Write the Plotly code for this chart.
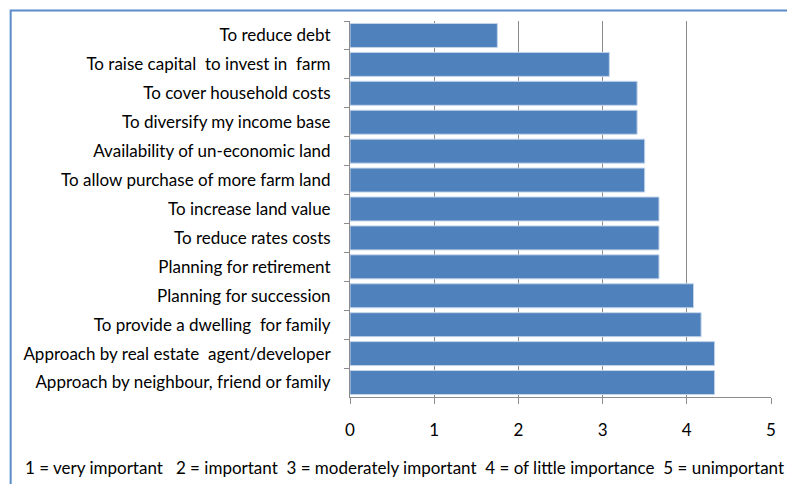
import plotly.graph_objects as go

categories = [
    "To reduce debt",
    "To raise capital  to invest in  farm",
    "To cover household costs",
    "To diversify my income base",
    "Availability of un-economic land",
    "To allow purchase of more farm land",
    "To increase land value",
    "To reduce rates costs",
    "Planning for retirement",
    "Planning for succession",
    "To provide a dwelling  for family",
    "Approach by real estate  agent/developer",
    "Approach by neighbour, friend or family",
]
values = [1.75, 3.08, 3.41, 3.41, 3.5, 3.5, 3.67, 3.67, 3.67, 4.08, 4.17, 4.33, 4.33]
x_ticks = [0, 1, 2, 3, 4, 5]
footnote = "1 = very important   2 = important  3 = moderately important  4 = of little importance  5 = unimportant"

W, H = 787, 484
L, R, T, B = 349.5, 770.7, 21, 397

fig = go.Figure(go.Bar(
    x=values, y=categories, orientation="h",
    marker=dict(color="#4F81BD", line=dict(color="#C5D5EA", width=1)),
    width=0.83,
))

FONT = "Lato"
FS = 17
fig.update_layout(
    width=W, height=H,
    margin=dict(l=L, r=W - R, t=T, b=H - B, pad=0),
    paper_bgcolor="white", plot_bgcolor="white",
    showlegend=False,
    font=dict(family=FONT, size=FS, color="#000000"),
    xaxis=dict(
        range=[0, 5], tickvals=x_ticks, showgrid=True, gridcolor="#8C8C8C", gridwidth=1,
        showline=True, linecolor="#8C8C8C", linewidth=1,
        ticks="outside", ticklen=6, tickcolor="#8C8C8C",
        tickfont=dict(size=FS), ticklabelstandoff=12, zeroline=False,
    ),
    yaxis=dict(
        autorange="reversed", type="category", tickson="boundaries",
        showline=True, linecolor="#8C8C8C", linewidth=1,
        ticks="outside", ticklen=5, tickcolor="#8C8C8C",
        tickfont=dict(size=FS), ticklabelstandoff=15, showgrid=False,
    ),
    shapes=[dict(
        type="rect", xref="paper", yref="paper",
        x0=(10 - L) / (R - L), x1=(W + 20 - L) / (R - L),
        y0=(B - (H + 20)) / (B - T), y1=(B - 10.5) / (B - T),
        line=dict(color="#5B8BC9", width=2), fillcolor="rgba(0,0,0,0)", layer="above",
    )],
    annotations=[dict(
        text=footnote, xref="paper", yref="paper",
        x=(22 - L) / (R - L), y=(B - 467) / (B - T),
        xanchor="left", yanchor="middle", showarrow=False,
        font=dict(family=FONT, size=FS, color="#000000"),
    )],
)

fig.write_html("out.html")
